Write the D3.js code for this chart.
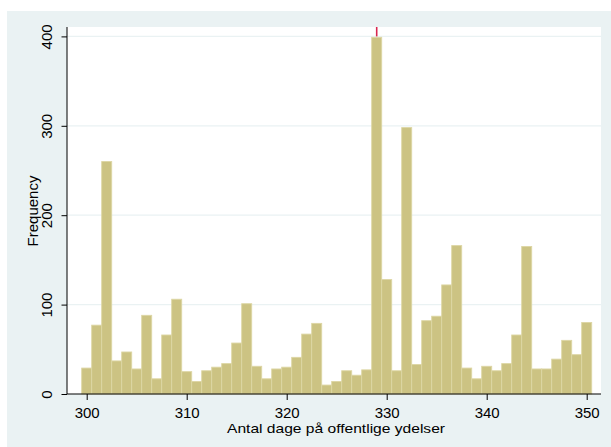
<!DOCTYPE html>
<html>
<head>
<meta charset="utf-8">
<script src="https://cdn.jsdelivr.net/npm/d3@7"></script>
<style>
  body { margin: 0; background: #fff; }
  text { font-family: Arial, "Liberation Sans", sans-serif; fill: #000; }
</style>
</head>
<body>
<svg id="chart" width="611" height="447"></svg>
<script>
// bin start (days) and counts
var days = d3.range(300, 351);
var counts = [29, 77, 260, 37, 47, 28, 88, 17, 66, 106,
              25, 14, 26, 30, 34, 57, 101, 31, 17, 28,
              30, 41, 67, 79, 10, 14, 26, 21, 27, 399,
              128, 26, 298, 33, 82, 87, 122, 166, 29, 17,
              31, 26, 34, 66, 165, 28, 28, 39, 60, 44, 80];
var xTicks = [300, 310, 320, 330, 340, 350];
var yTicks = [0, 100, 200, 300, 400];
var markDay = 329;

var svg = d3.select("#chart");

// outer grey-blue background
svg.append("rect").attr("x", 7).attr("y", 11).attr("width", 604).attr("height", 436)
  .attr("fill", "#EAF2F3");

// plot region (don't call it "top", window.top is taken)
var pL = 67, pR = 601, pT = 27, pB = 394;
svg.append("rect").attr("x", pL).attr("y", pT).attr("width", pR - pL).attr("height", pB - pT)
  .attr("fill", "#fff");

var x = d3.scaleLinear().domain([300, 350]).range([86.7, 586.7]);
var y = d3.scaleLinear().domain([0, 400]).range([pB, 36.4]);

// grid
svg.append("g").selectAll("line").data(yTicks.filter(function(d){ return d > 0; }))
  .enter().append("line")
  .attr("x1", pL).attr("x2", pR)
  .attr("y1", function(d){ return y(d); }).attr("y2", function(d){ return y(d); })
  .attr("stroke", "#EAF2F3").attr("stroke-width", 1.2);

// bars
svg.append("g").selectAll("rect").data(days)
  .enter().append("rect")
  .attr("x", function(d){ return x(d - 0.5); })
  .attr("width", function(d){ return x(d + 0.5) - x(d - 0.5); })
  .attr("y", function(d, i){ return y(counts[i]); })
  .attr("height", function(d, i){ return y(0) - y(counts[i]); })
  .attr("fill", "#CCC383")
  .attr("stroke", "#DDD6A4").attr("stroke-width", 0.9);

// red marker
svg.append("line")
  .attr("x1", x(markDay)).attr("x2", x(markDay))
  .attr("y1", pT).attr("y2", y(400))
  .attr("stroke", "#D8264F").attr("stroke-width", 1.6);

// y axis
var yAxis = svg.append("g").attr("transform", "translate(" + pL + ",0)")
  .call(d3.axisLeft(y).tickValues(yTicks).tickSize(5.5).tickSizeOuter(0).tickFormat(d3.format("d")));
yAxis.select(".domain").attr("d", "M0," + pT + "V" + pB).attr("stroke", "#000");
yAxis.selectAll(".tick line").attr("stroke", "#000");
yAxis.selectAll(".tick text")
  .attr("transform", "rotate(-90)")
  .attr("x", 0).attr("y", -15.5).attr("dy", 0)
  .attr("text-anchor", "middle")
  .style("font-size", "15px");

// x axis
var xAxis = svg.append("g").attr("transform", "translate(0," + pB + ")")
  .call(d3.axisBottom(x).tickValues(xTicks).tickSize(6).tickSizeOuter(0).tickFormat(d3.format("d")));
xAxis.select(".domain").attr("d", "M" + pL + ",0H" + pR).attr("stroke", "#000");
xAxis.selectAll(".tick line").attr("stroke", "#000");
xAxis.selectAll(".tick text").attr("y", 24).attr("dy", 0).style("font-size", "15px");

// titles
svg.append("text").attr("x", 227).attr("y", 432.5)
  .attr("textLength", 218).attr("lengthAdjust", "spacingAndGlyphs")
  .style("font-size", "13px")
  .text("Antal dage på offentlige ydelser");

svg.append("text").attr("transform", "translate(38," + 211 + ") rotate(-90)")
  .attr("text-anchor", "middle").style("font-size", "15px")
  .text("Frequency");
</script>
</body>
</html>
